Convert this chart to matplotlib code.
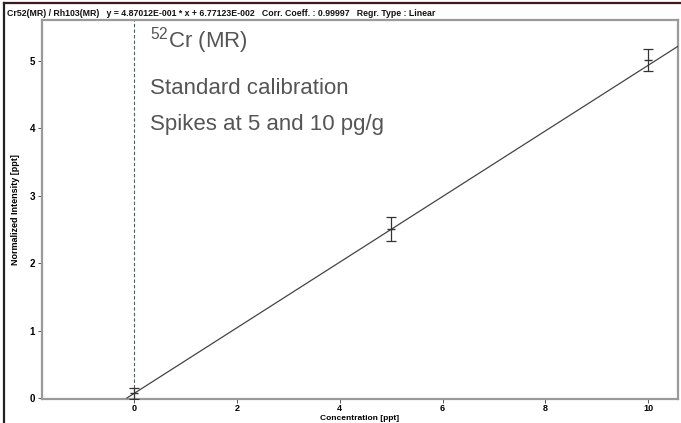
import matplotlib.pyplot as plt
import numpy as np

# calibration standards (concentration in ppt, normalized intensity)
conc = [0, 5, 10]
intensity = [0.07, 2.51, 5.02]
intensity_err = [0.08, 0.18, 0.16]

slope = 4.87012E-001
intercept = 6.77123E-002

header = ("Cr52(MR) / Rh103(MR)   y = 4.87012E-001 * x + 6.77123E-002   "
          "Corr. Coeff. : 0.99997   Regr. Type : Linear")

plt.rcParams['mathtext.fontset'] = 'custom'
plt.rcParams['mathtext.rm'] = 'Liberation Sans'
plt.rcParams['mathtext.it'] = 'Liberation Sans'

small = ['Liberation Sans', 'DejaVu Sans']

fig = plt.figure(figsize=(6.81, 4.23), dpi=100)
ax = fig.add_axes([0.0617, 0.0567, 0.9339, 0.896])

xlim = (-1.79, 10.58)
ylim = (-0.015, 5.61)

# regression line over the visible range, starting at y = 0
x0 = -intercept / slope
xs = np.array([x0, xlim[1]])
ax.plot(xs, slope * xs + intercept, color='#444444', lw=0.9, zorder=3)

ax.errorbar(conc, intensity, yerr=intensity_err, fmt='none', ecolor='#333333',
            elinewidth=0.9, capsize=3.5, capthick=0.9, zorder=4)
ax.plot(conc, intensity, ls='none', marker='_', ms=6, color='#333333', zorder=4)

ax.axvline(0, color='#3d6658', ls=(0, (3, 2)), lw=0.8, zorder=2)

ax.set_xlim(*xlim)
ax.set_ylim(*ylim)
ax.set_xticks([0, 2, 4, 6, 8, 10])
ax.set_yticks([0, 1, 2, 3, 4, 5])

for sp in ax.spines.values():
    sp.set_color('#9a9a9a')
    sp.set_linewidth(1.6)

ax.tick_params(axis='both', length=3, width=0.7, color='#555555', labelsize=7)
ax.tick_params(axis='x', pad=0.5, labelsize=6.5)
ax.tick_params(axis='y', pad=2)
for lab in ax.get_xticklabels() + ax.get_yticklabels():
    lab.set_family(small)
    lab.set_fontweight('bold')

ax.set_xlabel('Concentration [ppt]', family=small, fontweight='bold', fontsize=6, va='top')
ax.xaxis.set_label_coords(0.5, -0.041)
ax.set_ylabel('Normalized Intensity [ppt]', family=small, fontweight='bold', fontsize=6.5, labelpad=7)

# annotations
ax.text(0.17, 0.945, r'$^{52}$Cr (MR)', transform=ax.transAxes, fontsize=16,
        color='#555555', family='Liberation Sans', va='center')
ax.text(0.17, 0.82, 'Standard calibration', transform=ax.transAxes, fontsize=16,
        color='#555555', family='Liberation Sans', va='center')
ax.text(0.17, 0.723, 'Spikes at 5 and 10 pg/g', transform=ax.transAxes, fontsize=16,
        color='#555555', family='Liberation Sans', va='center')

# outer window frame and header
fig.add_artist(plt.Line2D([0.006, 1.0], [0.993, 0.993], transform=fig.transFigure,
                          color='#3a1a1a', lw=1.6))
fig.add_artist(plt.Line2D([0.006, 0.006], [0.0, 0.993], transform=fig.transFigure,
                          color='#222222', lw=1.6))
fig.text(0.011, 0.969, header, family=small, fontweight='bold', fontsize=6.3,
         va='center', ha='left', color='#111111')

fig.savefig('out.png', dpi=100)
